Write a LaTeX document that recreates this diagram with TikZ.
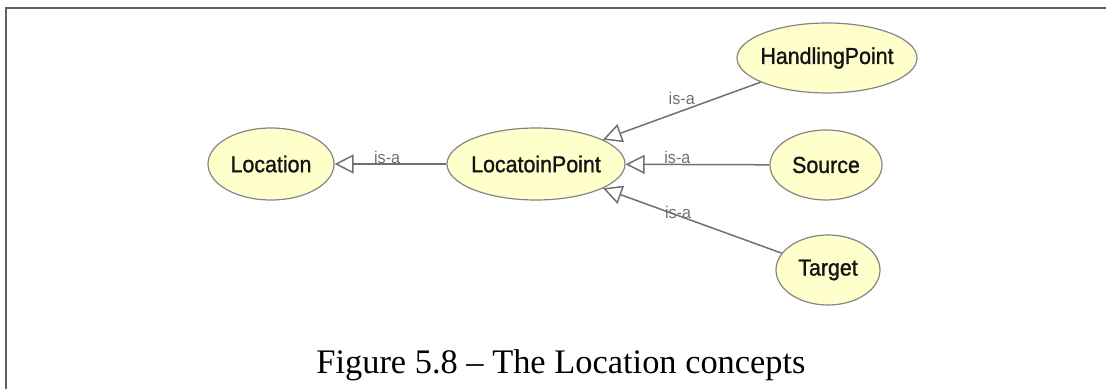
\documentclass[tikz,border=0pt]{standalone}
\usepackage{fontspec}
\setmainfont{Liberation Serif}
\newfontfamily\nodefont[FakeStretch=0.93,FakeBold=1.2]{Liberation Sans}
\newfontfamily\lblfont[FakeStretch=0.95]{Liberation Sans}
\usetikzlibrary{shapes.geometric,arrows.meta}
\definecolor{nodefill}{HTML}{FFFFCC}
\definecolor{nodeline}{HTML}{858585}
\definecolor{edgecol}{HTML}{707070}
\definecolor{framecol}{HTML}{5F5F5F}
\definecolor{txtcol}{HTML}{141414}
\tikzset{
  concept/.style={ellipse, draw=nodeline, line width=0.6pt, fill=nodefill, inner sep=0pt,
    font=\nodefont\fontsize{11.5}{13}\selectfont, text=txtcol},
  isa/.style={draw=edgecol, line width=0.75pt, -{Triangle[open, length=9.5pt, width=9.5pt]}},
  isalbl/.style={font=\lblfont\fontsize{8.5}{10}\selectfont, text=edgecol, inner sep=1pt, anchor=south}
}
\begin{document}
\begin{tikzpicture}[x=0.5pt,y=-0.5pt]
\useasboundingbox (0,0) rectangle (1106,389);
\draw[framecol, line width=0.8pt] (6,389) -- (6,8) -- (1106,8);
\node[concept, minimum width=63pt, minimum height=36pt] (loc) at (271,164) {\makebox[0pt]{Location}};
\node[concept, minimum width=89pt, minimum height=36pt] (lp) at (536,164) {\makebox[0pt]{LocatoinPoint}};
\node[concept, minimum width=90pt, minimum height=35pt] (hp) at (827,58) {\makebox[0pt]{HandlingPoint}};
\node[concept, minimum width=56pt, minimum height=35pt] (src) at (826,165) {\makebox[0pt]{Source}};
\node[concept, minimum width=52pt, minimum height=35pt] (tgt) at (828,270) {\makebox[0pt]{Target}};
\draw[isa] (lp) -- node[isalbl, pos=0.53, yshift=-1pt] {is-a} (loc);
\draw[isa] (hp) -- node[isalbl, pos=0.5, yshift=2pt] {is-a} (lp);
\draw[isa] (src) -- node[isalbl, pos=0.64, yshift=-1pt] {is-a} (lp);
\draw[isa] (tgt) -- node[isalbl, pos=0.58, yshift=-3pt] {is-a} (lp);
\node[anchor=base, font=\fontsize{17.2}{20}\selectfont, inner sep=0pt] (cap) at (561,373) {Figure 5.8 -- The Location concepts};
\end{tikzpicture}
\end{document}
